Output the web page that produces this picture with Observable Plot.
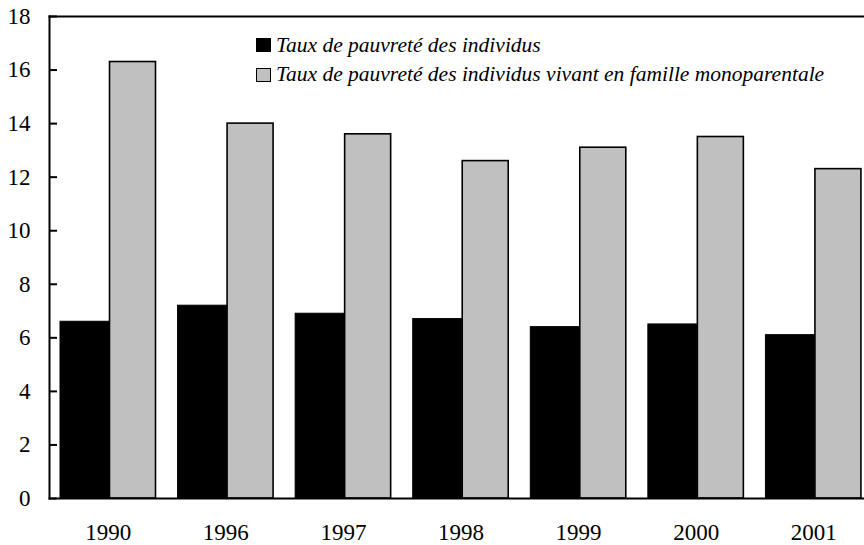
<!DOCTYPE html>
<html>
<head>
<meta charset="utf-8">
<script src="https://cdn.jsdelivr.net/npm/d3@7"></script>
<script src="https://cdn.jsdelivr.net/npm/@observablehq/plot@0.6"></script>
<style>
  html, body { margin: 0; padding: 0; background: #fff; }
  #wrap { position: relative; width: 864px; height: 545px; overflow: hidden; }
  #legend { position: absolute; left: 256px; top: 37px; font-family: "Liberation Serif", "Times New Roman", serif; font-style: italic; font-size: 21.5px; color: #000; }
  .row { display: flex; align-items: center; height: 16px; white-space: nowrap; }
  .row + .row { margin-top: 13.5px; }
  .sw { width: 15px; height: 14px; box-sizing: border-box; border: 1.5px solid #000; margin-right: 5px; flex: none; }
</style>
</head>
<body>
<div id="wrap">
  <div id="chart"></div>
  <div id="legend"></div>
</div>
<script>
const years = ["1990", "1996", "1997", "1998", "1999", "2000", "2001"];
const individus = [6.6, 7.2, 6.9, 6.7, 6.4, 6.5, 6.1];
const monoparentale = [16.3, 14.0, 13.6, 12.6, 13.1, 13.5, 12.3];
const seriesNames = [
  "Taux de pauvreté des individus",
  "Taux de pauvreté des individus vivant en famille monoparentale"
];
const seriesColors = ["#000000", "#C0C0C0"];
const yTicks = [0, 2, 4, 6, 8, 10, 12, 14, 16, 18];

const rowsA = years.map((y, i) => ({year: y, value: individus[i]}));
const rowsB = years.map((y, i) => ({year: y, value: monoparentale[i]}));

const W = 864, H = 545, ML = 49, MT = 16, MB = 47, MR = 0;
const xRange = [49, 872];
const band = (xRange[1] - xRange[0]) / years.length;

const chart = Plot.plot({
  width: W,
  height: H,
  marginLeft: ML,
  marginTop: MT,
  marginBottom: MB,
  marginRight: MR,
  style: {fontFamily: "'Liberation Serif', 'Times New Roman', serif", fontSize: "23px", color: "#000", background: "#fff", overflow: "visible"},
  x: {domain: years, range: xRange, padding: 0, round: false, tickSize: 0, tickPadding: 25, label: null},
  y: {domain: [0, 18], ticks: yTicks, tickSize: 0, tickPadding: 19, label: null},
  marks: [
    Plot.barY(rowsA, {x: "year", y: "value", fill: seriesColors[0], stroke: "#000", strokeWidth: 1,
      insetLeft: 11, insetRight: band - 60}),
    Plot.barY(rowsB, {x: "year", y: "value", fill: seriesColors[1], stroke: "#000", strokeWidth: 1.6,
      insetLeft: 60.5, insetRight: band - 106.5}),
    Plot.frame({anchor: "left", stroke: "#000", strokeWidth: 2}),
    Plot.frame({anchor: "top", stroke: "#000", strokeWidth: 2}),
    Plot.frame({anchor: "bottom", stroke: "#000", strokeWidth: 2}),
    Plot.tickY(yTicks, {y: d => d, stroke: "#000", strokeWidth: 2, insetRight: (W - MR - ML) - 8})
  ]
});
document.getElementById("chart").appendChild(chart);

const legend = document.getElementById("legend");
seriesNames.forEach((name, i) => {
  const row = document.createElement("div");
  row.className = "row";
  const sw = document.createElement("div");
  sw.className = "sw";
  sw.style.background = seriesColors[i];
  const t = document.createElement("span");
  t.textContent = name;
  row.appendChild(sw);
  row.appendChild(t);
  legend.appendChild(row);
});
</script>
</body>
</html>
